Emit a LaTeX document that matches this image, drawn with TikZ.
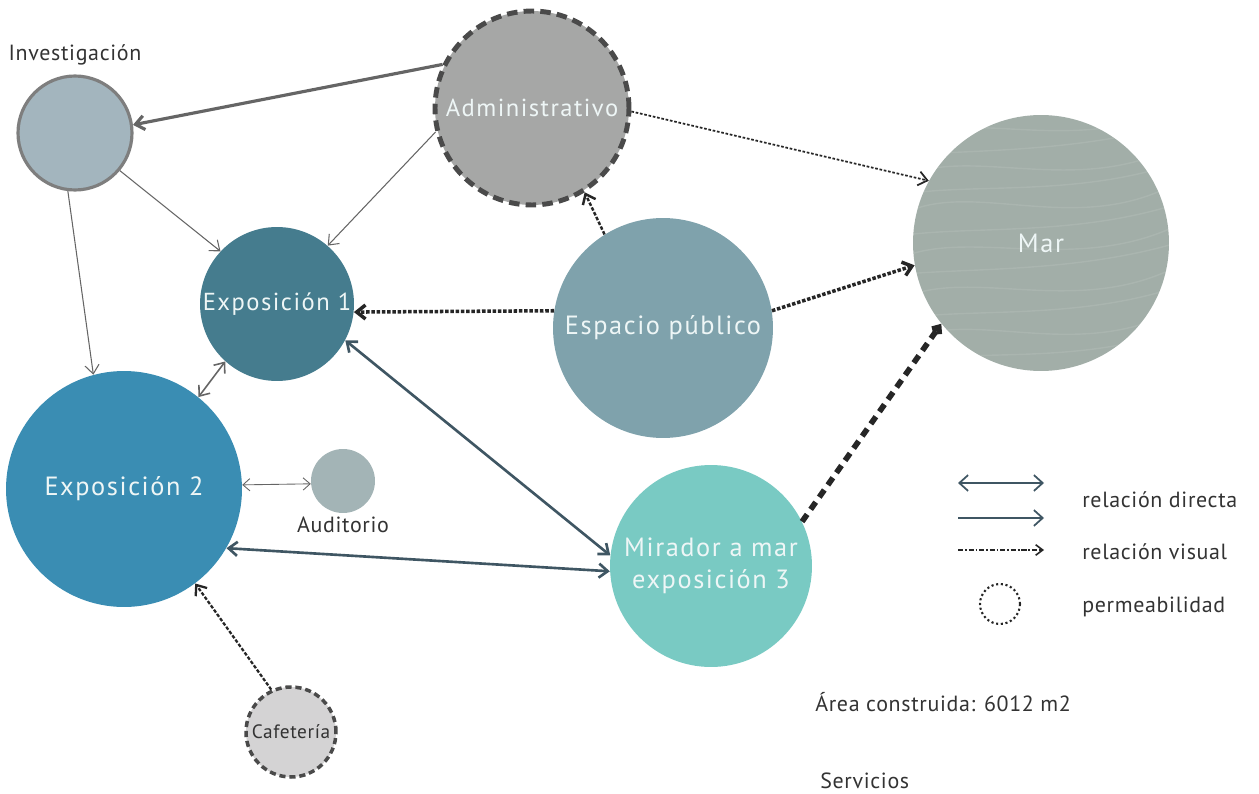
\documentclass[tikz,border=0pt]{standalone}
\usepackage{fontspec}
\setmainfont{PT Sans}[LetterSpace=6]
\usepackage{tikz}
\usetikzlibrary{arrows.meta,positioning}
\definecolor{InvFill}{HTML}{A3B5BE}
\definecolor{InvLine}{HTML}{7E7E7E}
\definecolor{AdmFill}{HTML}{A6A7A6}
\definecolor{ExpoA}{HTML}{457C8E}
\definecolor{ExpoB}{HTML}{3A8DB3}
\definecolor{EspFill}{HTML}{7FA2AC}
\definecolor{MarFill}{HTML}{A2AEA8}
\definecolor{AudFill}{HTML}{A3B4B6}
\definecolor{MirFill}{HTML}{79CAC3}
\definecolor{CafFill}{HTML}{D4D3D4}
\definecolor{DarkLine}{HTML}{4A4A4A}
\definecolor{SlateLine}{HTML}{3F5663}
\definecolor{TxtIn}{HTML}{EEF6F6}
\definecolor{TxtOut}{HTML}{333333}

\begin{document}
\begin{tikzpicture}[x=0.02cm,y=-0.02cm,font=\fontsize{13}{15}\selectfont,
  zona/.style={circle,inner sep=0pt,text=TxtIn,align=center},
  perm/.style={zona,draw=DarkLine,dash pattern=on 3.5pt off 2.2pt},
  rd/.style={-{Straight Barb[length=5pt,width=8pt]},line width=0.6pt,DarkLine!85},
  rdd/.style={{Straight Barb[length=5pt,width=8pt]}-{Straight Barb[length=5pt,width=8pt]},line width=1.5pt,SlateLine},
  rv/.style={-{Straight Barb[length=5pt,width=8pt]},black!85,line width=2pt,dash pattern=on 2pt off 1pt},
  lbl/.style={text=TxtOut,inner sep=0pt,font=\fontsize{12.5}{15}\selectfont\addfontfeature{LetterSpace=3}}]
  \useasboundingbox (0,0) rectangle (1259,794);

  % zonas
  \node[zona,fill=InvFill,draw=InvLine,line width=1.8pt,minimum size=2.28cm] (inv) at (75,133) {};
  \node[perm,fill=AdmFill,line width=2.8pt,minimum size=3.88cm,dash pattern=on 6pt off 3.5pt,font=\fontsize{14}{16}\selectfont] (adm) at (532,108) {Administrativo};
  \node[zona,fill=ExpoA,minimum size=3.08cm,font=\fontsize{14}{16}\selectfont] (ex1) at (277,304) {Exposición 1};
  \node[zona,fill=EspFill,minimum size=4.4cm,font=\fontsize{15}{17}\selectfont] (esp) at (663,328) {Espacio público};
  \node[zona,fill=MarFill,minimum size=5.12cm] (mar) at (1041,243) {};
  \node[zona,fill=ExpoB,minimum size=4.72cm,font=\fontsize{15}{17}\selectfont] (ex2) at (124,489) {Exposición 2};
  \node[zona,fill=AudFill,minimum size=1.28cm] (aud) at (343,481) {};
  \node[zona,fill=MirFill,minimum size=4.04cm,font=\fontsize{15}{18}\selectfont] (mir) at (711,566) {Mirador a mar\\exposición 3};
  \node[perm,fill=CafFill,text=TxtOut,line width=2pt,minimum size=1.8cm,font=\fontsize{11}{13}\selectfont\addfontfeature{LetterSpace=3}] (caf) at (291,732) {Cafetería};

  % textura del mar
  \begin{scope}
    \clip (1041,243) circle (128);
    \foreach \y/\d in {118/12,137/-8,155/15,176/-10,194/9,213/-14,235/11,256/-6,274/14,297/-9,318/10,340/-12,361/8}
      \draw[white,opacity=0.09,line width=0.8pt] (905,\y) .. controls (975,\y-20+\d) and (1080,\y+12-\d) .. (1180,\y-32);
  \end{scope}
  \node[text=TxtIn,font=\fontsize{15}{17}\selectfont] (marlbl) at (mar) {Mar};

  \node[lbl,above=5pt of inv] {Investigación};
  \node[lbl,below=2pt of aud] {Auditorio};

  % relaciones directas
  \draw[rd,line width=1.8pt] (adm.154) -- (inv.8);
  \draw[rd] (adm.194) -- (ex1.49);
  \draw[rd] (inv.320) -- (ex1.137);
  \draw[rd] (inv.263) -- (ex2.105);
  \draw[rd,{Straight Barb[length=5pt,width=8pt]}-{Straight Barb[length=5pt,width=8pt]},line width=0.9pt] (ex1.228) -- (ex2.51);
  \draw[rd,{Straight Barb[length=4pt,width=7pt]}-{Straight Barb[length=4pt,width=7pt]},line width=0.5pt] (ex2.2) -- (aud.185);
  \draw[rdd] (ex1.332) -- (mir.174);
  \draw[rdd] (ex2.330) -- (mir.183);

  % relaciones visuales
  \draw[rv] (esp.171) -- (ex1.354);
  \draw[rv,line width=1.4pt] (esp.122) -- (adm.302);
  \draw[rv] (esp.9) -- (mar.190);
  \draw[rv,line width=1pt,dash pattern=on 1.5pt off 1pt] (adm.358) -- (mar.151);
  \draw[rv,line width=1.3pt] (caf.115) -- (ex2.307);
  \draw[rv,line width=3.2pt,dash pattern=on 5pt off 3.5pt,-{Straight Barb[length=3pt,width=5pt]}] (mir.26) -- (mar.219);

  % leyenda
  \coordinate (l1a) at (958,483); \coordinate (l1b) at (1044,483);
  \coordinate (l2a) at (958,518); \coordinate (l2b) at (1044,518);
  \coordinate (l3a) at (958,550); \coordinate (l3b) at (1044,550);
  \draw[SlateLine,line width=1pt,{Straight Barb[length=5pt,width=9pt]}-{Straight Barb[length=5pt,width=9pt]}] (l1a) -- (l1b);
  \draw[SlateLine,line width=1pt,-{Straight Barb[length=5pt,width=9pt]}] (l2a) -- (l2b);
  \draw[black!85,line width=0.9pt,dash pattern=on 3pt off 1pt on 1pt off 1pt,-{Straight Barb[length=4pt,width=6pt]}] (l3a) -- (l3b);
  \node[circle,draw=black!85,line width=1.2pt,dash pattern=on 1.2pt off 1.5pt,minimum size=0.8cm] (lperm) at (1000,604) {};
  \node[lbl,anchor=west] (t1) at (1082,500) {relación directa};
  \node[lbl,anchor=west] (t2) at (1082,552) {relación visual};
  \node[lbl,anchor=west] (t3) at (1082,607) {permeabilidad};

  \node[lbl,anchor=west] (area) at (815,702) {Área construida: 6012 m2};
  \node[lbl,anchor=west] (serv) at (820,781) {Servicios};
\end{tikzpicture}
\end{document}
